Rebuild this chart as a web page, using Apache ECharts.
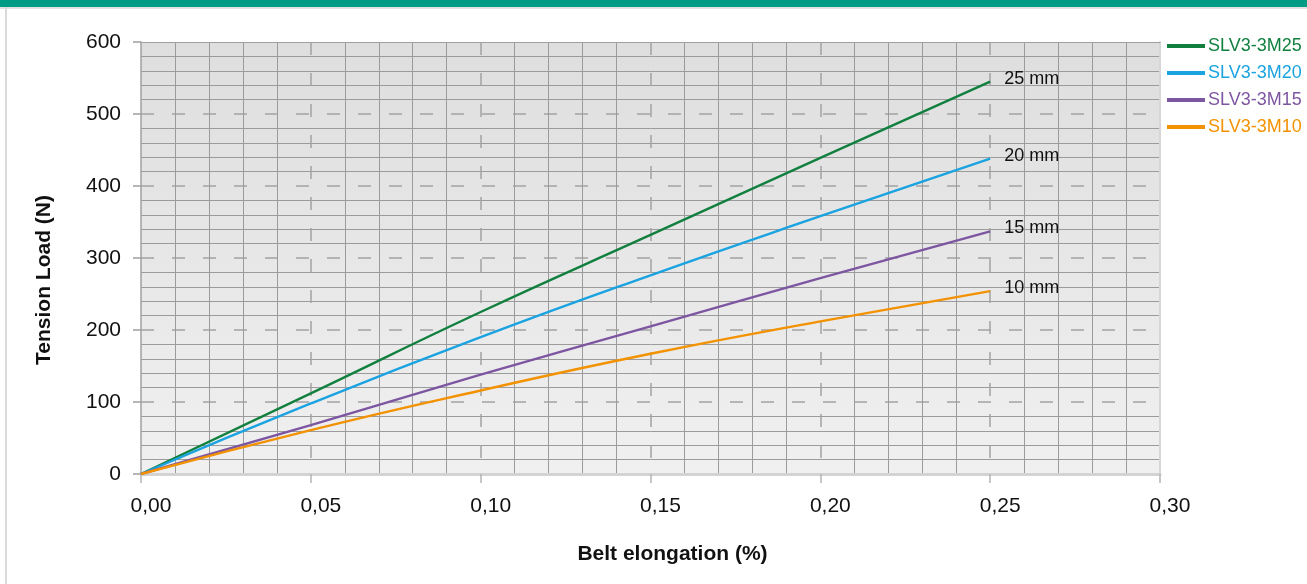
<!DOCTYPE html>
<html>
<head>
<meta charset="utf-8">
<script src="https://cdn.jsdelivr.net/npm/echarts@6/dist/echarts.min.js"></script>
<style>
html,body{margin:0;padding:0;background:#fff;}
#chart{width:1307px;height:584px;}
</style>
</head>
<body>
<div id="chart"></div>
<script>
const elongation = [0, 0.05, 0.10, 0.15, 0.20, 0.25];
const load25 = [0, 112, 225, 332, 439, 545];
const load20 = [0, 98, 190, 276, 358, 438];
const load15 = [0, 68, 138, 205, 272, 337];
const load10 = [0, 61, 116, 167, 212, 254];
const seriesNames = ['SLV3-3M25', 'SLV3-3M20', 'SLV3-3M15', 'SLV3-3M10'];
const endLabels = ['25 mm', '20 mm', '15 mm', '10 mm'];
const colors = ['#11803f', '#1aa3e0', '#7d56a1', '#f39200'];
const loads = [load25, load20, load15, load10];

const FONT = '"Liberation Sans", Arial, Helvetica, sans-serif';
const chart = echarts.init(document.getElementById('chart'), null, {renderer: 'canvas'});

const series = seriesNames.map((name, i) => ({
  name: name,
  type: 'line',
  smooth: true,
  showSymbol: false,
  symbol: 'none',
  data: elongation.map((x, k) => [x, loads[i][k]]),
  lineStyle: {color: colors[i], width: 2.4},
  itemStyle: {color: colors[i]},
  z: 5,
  endLabel: {
    show: true,
    formatter: endLabels[i],
    color: '#111',
    fontSize: 18,
    fontFamily: FONT,
    distance: 14,
    offset: [0, -3]
  }
}));

const option = {
  animation: false,
  backgroundColor: '#ffffff',
  graphic: [
    {type: 'rect', left: 0, top: 0, shape: {width: 1307, height: 7}, style: {fill: '#009b84'}, silent: true},
    {type: 'rect', left: 0, top: 7, shape: {width: 1307, height: 2}, style: {fill: '#e2e2e2'}, silent: true},
    {type: 'rect', left: 5, top: 7, shape: {width: 2, height: 577}, style: {fill: '#dadada'}, silent: true}
  ],
  grid: {
    left: 141, right: 147, top: 42, bottom: 110,
    show: true,
    borderWidth: 0,
    backgroundColor: new echarts.graphic.LinearGradient(0, 0, 0, 1, [
      {offset: 0, color: '#dedede'},
      {offset: 1, color: '#f0f0f0'}
    ])
  },
  legend: {
    orient: 'vertical',
    left: 1167,
    top: 37,
    padding: 0,
    itemWidth: 38,
    itemHeight: 4,
    itemGap: 9,
    icon: 'rect',
    textStyle: {fontSize: 18, fontFamily: FONT, padding: [0, 0, 0, -2]},
    data: seriesNames.map((n, i) => ({name: n, itemStyle: {color: colors[i]}, textStyle: {color: colors[i]}}))
  },
  xAxis: [{
    type: 'value',
    min: 0, max: 0.30, interval: 0.05,
    name: 'Belt elongation (%)',
    nameLocation: 'middle',
    nameGap: 70,
    nameTextStyle: {fontSize: 21, fontWeight: 'bold', color: '#111', fontFamily: FONT, padding: [0, 0, 0, 44]},
    axisLine: {show: true, onZero: false, lineStyle: {color: '#d3d3d3', width: 3}},
    axisTick: {show: true, length: 9, lineStyle: {color: '#b5b5b5', width: 1.5}},
    axisLabel: {fontSize: 21, color: '#111', fontFamily: FONT, margin: 22, padding: [0, 0, 0, 20],
      formatter: v => v.toFixed(2).replace('.', ',')},
    splitLine: {show: true, showMinLine: false, showMaxLine: false,
      lineStyle: {color: '#a3a3a3', width: 1.5, type: [13, 18], dashOffset: 0}},
    minorTick: {show: false, splitNumber: 5},
    minorSplitLine: {show: true, lineStyle: {color: '#9b9b9b', width: 1}}
  }, {
    type: 'value', position: 'top',
    min: 0, max: 0.30, interval: 0.05,
    axisLine: {show: true, onZero: false, lineStyle: {color: '#a0a0a0', width: 1}},
    axisTick: {show: false}, axisLabel: {show: false}, splitLine: {show: false}
  }],
  yAxis: [{
    type: 'value',
    min: 0, max: 600, interval: 100,
    name: 'Tension Load (N)',
    nameLocation: 'middle',
    nameGap: 86,
    nameRotate: 90,
    nameTextStyle: {fontSize: 21, fontWeight: 'bold', color: '#111', fontFamily: FONT, padding: [0, 44, 0, 0]},
    axisLine: {show: true, onZero: false, lineStyle: {color: '#a0a0a0', width: 1.5}},
    axisTick: {show: true, length: 8, lineStyle: {color: '#a0a0a0', width: 1.5}},
    axisLabel: {fontSize: 21, color: '#111', fontFamily: FONT, margin: 20},
    splitLine: {show: true, showMinLine: false, showMaxLine: false,
      lineStyle: {color: '#a3a3a3', width: 1.5, type: [13, 18]}},
    minorTick: {show: false, splitNumber: 5},
    minorSplitLine: {show: true, lineStyle: {color: '#9b9b9b', width: 1}}
  }, {
    type: 'value', position: 'right',
    min: 0, max: 600, interval: 100,
    axisLine: {show: true, onZero: false, lineStyle: {color: '#d6d6d6', width: 2}},
    axisTick: {show: false}, axisLabel: {show: false}, splitLine: {show: false}
  }],
  series: series
};
chart.setOption(option);
</script>
</body>
</html>
